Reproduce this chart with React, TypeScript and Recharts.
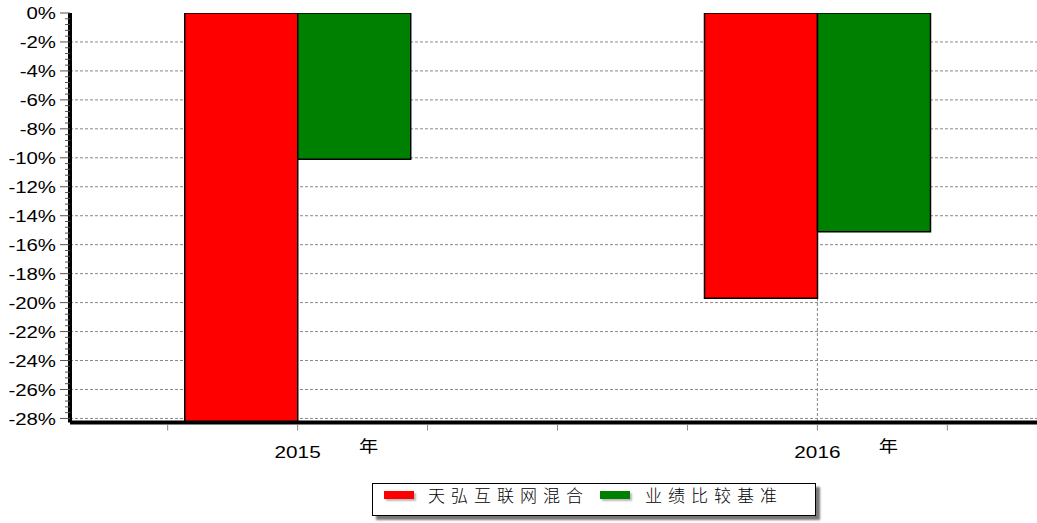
import React from 'react';
import { BarChart, Bar, XAxis, YAxis, CartesianGrid } from 'recharts';

// 数据
const years = [2015, 2016];
const fundReturns = [-28.3, -19.7];
const benchmarkReturns = [-10.1, -15.1];
const seriesNames = ['天弘互联网混合', '业绩比较基准'];
const seriesColors = ['#ff0000', '#008000'];
const yearSuffix = '年';

const yTicks = [0, -2, -4, -6, -8, -10, -12, -14, -16, -18, -20, -22, -24, -26, -28];
const yMinorTicks = Array.from({ length: 71 }, (_, i) => Math.round(-i * 4) / 10);
const xMinorTicks = [2014.75, 2015, 2015.25, 2015.5, 2015.75, 2016, 2016.25];

const xDomain = [2014.5621, 2016.4225];
const yDomain = [-28.28, 0];

const chartData = years.map((year, i) => ({
    year,
    fund: fundReturns[i],
    benchmark: benchmarkReturns[i],
}));

const numFont = '"Liberation Sans", Arial, sans-serif';
const cjkFont = '"Noto Sans CJK SC", sans-serif';

// y轴刻度: 主刻度带标签, 次刻度只画短线
function YTick({ x, y, payload }: any) {
    const major = yTicks.includes(payload.value);
    return (
        <g transform={`translate(${x},${y})`}>
            <line x1={major ? -10 : -5} x2={0} y1={0} y2={0} stroke="#555" />
            {major && (
                <text transform="translate(-14,0) scale(1.2,1)" textAnchor="end" dy="0.36em" fontSize={17} fontFamily={numFont} fill="#000">
                    {`${payload.value}%`}
                </text>
            )}
        </g>
    );
}

function XTick({ x, y, payload }: any) {
    const major = years.includes(payload.value);
    return (
        <g transform={`translate(${x},${y})`}>
            <line x1={0} x2={0} y1={2} y2={8} stroke="#888" />
            {major && (
                <>
                    <text transform="scale(1.22,1)" textAnchor="middle" y={36} fontSize={17} fontFamily={numFont} fill="#000">
                        {payload.value}
                    </text>
                    <g transform="translate(71,0)">
                        <text transform="scale(1.2,1)" textAnchor="middle" y={30} fontSize={16} fontFamily={cjkFont} fill="#000">
                            {yearSuffix}
                        </text>
                    </g>
                </>
            )}
        </g>
    );
}

function LegendBox() {
    const items = [
        { left: 11, text: 55 },
        { left: 227, text: 272 },
    ];
    return (
        <div
            style={{
                position: 'absolute',
                left: 372,
                top: 483,
                width: 442,
                height: 31,
                border: '1px solid #000',
                background: '#fff',
                boxShadow: '4px 4px 2px #777',
            }}
        >
            {seriesNames.map((name, i) => (
                <React.Fragment key={name}>
                    <div
                        style={{
                            position: 'absolute',
                            left: items[i].left,
                            top: 7,
                            width: 30,
                            height: 8,
                            background: seriesColors[i],
                            boxShadow: '2px 2px 2px #bbb',
                        }}
                    />
                    <div
                        style={{
                            position: 'absolute',
                            left: items[i].text,
                            top: 0,
                            lineHeight: '22px',
                            fontSize: 17,
                            fontWeight: 300,
                            letterSpacing: 6,
                            fontFamily: cjkFont,
                            color: '#000',
                            whiteSpace: 'nowrap',
                        }}
                    >
                        {name}
                    </div>
                </React.Fragment>
            ))}
        </div>
    );
}

export default function App() {
    return (
        <div style={{ position: 'absolute', left: 0, top: 0, width: 1037, height: 523, background: '#fff' }}>
            <BarChart
                width={1037}
                height={523}
                data={chartData}
                margin={{ top: 13, right: 0, left: 0, bottom: 0 }}
                barGap={0}
            >
                <CartesianGrid
                    stroke="#888"
                    strokeDasharray="3 2"
                    horizontalValues={yTicks.filter((v) => v !== 0)}
                    verticalValues={years}
                />
                <XAxis
                    dataKey="year"
                    type="number"
                    domain={xDomain}
                    allowDataOverflow
                    ticks={xMinorTicks}
                    interval={0}
                    height={100.5}
                    tickSize={0}
                    tickMargin={0}
                    tickLine={false}
                    axisLine={{ stroke: '#000', strokeWidth: 4 }}
                    tick={<XTick />}
                />
                <YAxis
                    type="number"
                    domain={yDomain}
                    allowDataOverflow
                    ticks={yMinorTicks}
                    interval={0}
                    width={70}
                    tickSize={0}
                    tickMargin={0}
                    tickLine={false}
                    axisLine={{ stroke: '#000', strokeWidth: 4 }}
                    tick={<YTick />}
                />
                <Bar
                    dataKey="fund"
                    name={seriesNames[0]}
                    fill={seriesColors[0]}
                    stroke="#000"
                    strokeWidth={1.5}
                    barSize={113}
                    isAnimationActive={false}
                />
                <Bar
                    dataKey="benchmark"
                    name={seriesNames[1]}
                    fill={seriesColors[1]}
                    stroke="#000"
                    strokeWidth={1.5}
                    barSize={113}
                    isAnimationActive={false}
                />
            </BarChart>
            <LegendBox />
        </div>
    );
}
